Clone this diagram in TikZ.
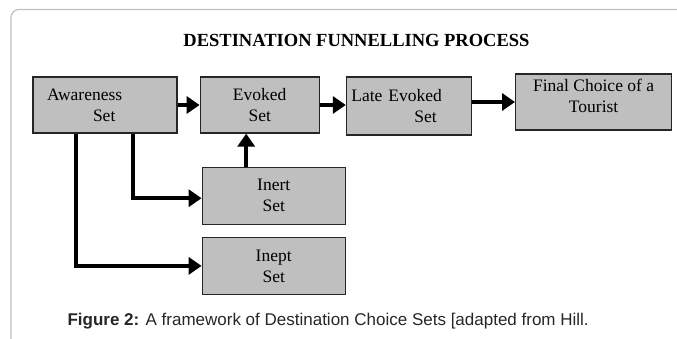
\documentclass[tikz,border=0pt]{standalone}
\usepackage{fontspec}
\setmainfont{Liberation Serif}
\setsansfont{Liberation Sans}
\usetikzlibrary{arrows.meta,positioning}

\begin{document}
\begin{tikzpicture}[
    x=1pt, y=-1pt,
    setbox/.style={rectangle, draw=black!85, line width=1.2pt, fill=gray!50, minimum height=56pt,
                   font=\fontsize{17.5}{21}\selectfont, inner sep=0pt},
    flow/.style={line width=4.5pt, -{Triangle[length=13pt, width=17pt]}},
    heading/.style={font=\fontsize{18.5}{22}\selectfont\bfseries},
    caption/.style={font=\sffamily\fontsize{17}{20}\selectfont, text=black!85}
]
\useasboundingbox (0,0) rectangle (677,338);

% Panel frame
\draw[gray!50, line width=1.2pt, rounded corners=8pt] (11,345) -- (11,9.5) -- (685,9.5);

% Title
\node[heading] (funnel-title) at (356.5,40) {DESTINATION FUNNELLING PROCESS};

% Top row of sets
\node[setbox, minimum width=144pt, text width=116pt, align=left, inner xsep=14pt] (aware-set) at (105,105)
    {Awareness\\\hspace*{46pt}Set};
\node[setbox, minimum width=119pt, align=center, right=22pt of aware-set] (evoked-set) {Evoked\\Set};
\node[setbox, minimum width=125pt, minimum height=58pt, text width=115pt, align=left, inner xsep=5pt,
      right=26pt of evoked-set, yshift=-1pt] (late-set) {Late Evoked\\\hspace*{63pt}Set};
\node[setbox, minimum width=156pt, align=center, right=43pt of late-set, yshift=4pt] (final-choice)
    {Final Choice of a\\Tourist\\[-9pt]\mbox{}};

% Lower sets
\node[setbox, minimum width=143pt, minimum height=57pt, align=center,
      below right=33pt and 2pt of evoked-set.south west] (inert-set) {Inert\\Set};
\node[setbox, minimum width=143pt, minimum height=57pt, align=center, below=12pt of inert-set] (inept-set)
    {Inept\\Set};

% Arrows along the funnel
\draw[flow] (aware-set) -- (evoked-set);
\draw[flow] (evoked-set.east) -- (evoked-set.east -| late-set.west);
\draw[flow] (late-set.east |- final-choice) -- (final-choice.west);

% Branches to inert and inept sets
\draw[flow] ([xshift=28pt]aware-set.south) |- ([yshift=-2.5pt]inert-set.west);
\draw[flow] ([xshift=-29pt]aware-set.south) |- (inept-set.west);
\draw[flow] ([xshift=-27.5pt]inert-set.north) -- ([xshift=-27.5pt]inert-set.north |- evoked-set.south);

% Caption
\node[caption, anchor=west] (fig-caption) at (64,321)
    {\textbf{Figure 2:} A framework of Destination Choice Sets [adapted from Hill.};

\end{tikzpicture}
\end{document}
